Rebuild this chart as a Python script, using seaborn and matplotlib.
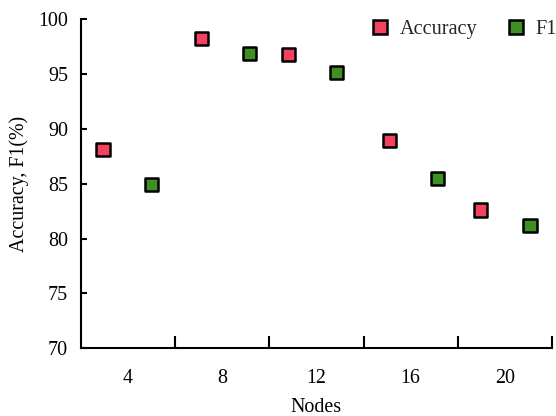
import matplotlib
matplotlib.use("Agg")
import matplotlib.pyplot as plt
import seaborn as sns
import pandas as pd
from matplotlib.ticker import FixedLocator

nodes = [4, 8, 12, 16, 20]
acc_x = [2.95, 7.13, 10.81, 15.11, 18.95]
f1_x = [5.01, 9.18, 12.86, 17.15, 21.06]
accuracy = [88.1, 98.2, 96.8, 88.9, 82.6]
f1 = [84.9, 96.9, 95.1, 85.5, 81.2]
series = ["Accuracy", "F1"]
colors = ["#F2425F", "#3F8F22"]
y_ticks = [70, 75, 80, 85, 90, 95, 100]
boundary_ticks = [6, 10, 14, 18, 22]

df = pd.DataFrame({
    "x": acc_x + f1_x,
    "value": accuracy + f1,
    "Metric": [series[0]] * len(accuracy) + [series[1]] * len(f1),
})

sns.set_theme(style="white")
plt.rcParams["font.family"] = ["Liberation Serif", "DejaVu Serif"]

fig = plt.figure(figsize=(5.56, 4.16), dpi=100)
ax = fig.add_axes([0.145, 0.163, 0.848, 0.791])

sns.scatterplot(data=df, x="x", y="value", hue="Metric", palette=colors,
                marker="s", s=90, edgecolor="black", linewidth=1.8, ax=ax,
                legend=True, zorder=3)

ax.set_xlim(2, 22)
ax.set_ylim(70, 100)
ax.set_xticks(nodes)
ax.set_xticklabels([str(n) for n in nodes])
ax.xaxis.set_minor_locator(FixedLocator(boundary_ticks))
ax.set_yticks(y_ticks)

ax.tick_params(axis="x", which="major", length=0, pad=15, labelsize=14.4, colors="black")
ax.tick_params(axis="x", which="minor", direction="in", length=9, width=1.5, bottom=True, color="black")
ax.tick_params(axis="y", which="major", direction="in", length=4.5, width=1.5, pad=9,
               labelsize=14.4, left=True, colors="black")

for side in ["top", "right"]:
    ax.spines[side].set_visible(False)
for side in ["left", "bottom"]:
    ax.spines[side].set_color("black")
    ax.spines[side].set_linewidth(1.5)

ax.set_xlabel("Nodes", fontsize=14.4, labelpad=7, color="black")
ax.set_ylabel("Accuracy, F1(%)", fontsize=14.4, labelpad=7, color="black")

handles, labels = ax.get_legend_handles_labels()
for h in handles:
    try:
        h.set_markersize(10.5)
        h.set_markeredgewidth(1.8)
    except Exception:
        pass
ax.legend(handles, labels, loc="upper right", bbox_to_anchor=(1.035, 1.035), ncol=2,
          frameon=False, fontsize=14.6, handlelength=0.8, handletextpad=0.55,
          columnspacing=1.5, borderaxespad=0.2)

fig.savefig("out.png", dpi=100)
